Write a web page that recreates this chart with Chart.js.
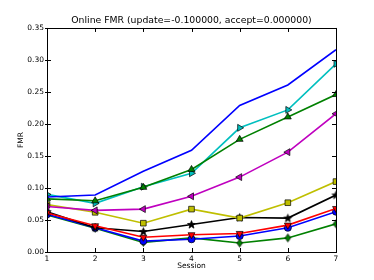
<!DOCTYPE html>
<html>
<head>
<meta charset="utf-8">
<script src="https://cdn.jsdelivr.net/npm/chart.js@4.4.1/dist/chart.umd.min.js"></script>
<style>
    html, body { margin: 0; padding: 0; background: #fff; }
    #wrap { width: 374px; height: 280px; }
</style>
</head>
<body>
<div id="wrap"><canvas id="fmr-chart"></canvas></div>
<script>
// Dados do gráfico
const sessoes = ['1', '2', '3', '4', '5', '6', '7'];
const yTicks = [0, 0.05, 0.10, 0.15, 0.20, 0.25, 0.30, 0.35];

const azulLinha = [0.086, 0.089, 0.126, 0.159, 0.229, 0.261, 0.316];
const verdeTriangulo = [0.083, 0.080, 0.101, 0.129, 0.176, 0.211, 0.246];
const vermelhoTriangulo = [0.061, 0.041, 0.023, 0.027, 0.029, 0.042, 0.068];
const cianoTriangulo = [0.090, 0.076, 0.102, 0.123, 0.194, 0.222, 0.294];
const magentaTriangulo = [0.071, 0.065, 0.067, 0.087, 0.117, 0.156, 0.216];
const amareloQuadrado = [0.074, 0.062, 0.045, 0.067, 0.053, 0.077, 0.110];
const pretoEstrela = [0.063, 0.038, 0.032, 0.043, 0.054, 0.053, 0.089];
const azulCirculo = [0.059, 0.038, 0.017, 0.020, 0.025, 0.038, 0.063];
const verdeDiamante = [0.058, 0.037, 0.015, 0.022, 0.014, 0.022, 0.044];

const FONTE = "'DejaVu Sans', sans-serif";
Chart.defaults.color = '#000';
Chart.defaults.font.family = FONTE;

// Marcadores desenhados à mão (estrela e diamante)
function criarMarcador(tipo, cor) {
    const c = document.createElement('canvas');
    c.width = 11;
    c.height = 11;
    const g = c.getContext('2d');
    g.fillStyle = cor;
    g.strokeStyle = '#000';
    g.lineWidth = 0.7;
    g.beginPath();
    if (tipo === 'estrela') {
        for (let i = 0; i < 10; i++) {
            const r = i % 2 === 0 ? 4.2 : 1.8;
            const a = -Math.PI / 2 + i * Math.PI / 5;
            g.lineTo(5.5 + r * Math.cos(a), 5.8 + r * Math.sin(a));
        }
    } else {
        g.moveTo(5.5, 1.5);
        g.lineTo(8.3, 5.5);
        g.lineTo(5.5, 9.5);
        g.lineTo(2.7, 5.5);
    }
    g.closePath();
    g.fill();
    g.stroke();
    return c;
}

function serie(dados, cor, estilo, rotacao, raio) {
    return {
        data: dados,
        borderColor: cor,
        backgroundColor: cor,
        borderWidth: 1.6,
        pointStyle: estilo,
        pointRotation: rotacao || 0,
        pointRadius: estilo === false ? 0 : (raio || 3.6),
        pointBackgroundColor: cor,
        pointBorderColor: '#000',
        pointBorderWidth: 0.7,
        tension: 0,
        clip: 0
    };
}

// Moldura e ticks internos (estilo matplotlib)
const molduraPlugin = {
    id: 'moldura',
    afterDraw(chart) {
        const { ctx, chartArea: a, scales } = chart;
        const t = 4;
        ctx.save();
        ctx.strokeStyle = '#000';
        ctx.lineWidth = 1;
        ctx.beginPath();
        sessoes.forEach((s, i) => {
            const x = Math.round(scales.x.getPixelForValue(i)) + 0.5;
            ctx.moveTo(x, a.bottom); ctx.lineTo(x, a.bottom - t);
            ctx.moveTo(x, a.top); ctx.lineTo(x, a.top + t);
        });
        yTicks.forEach(v => {
            const y = Math.round(scales.y.getPixelForValue(v)) + 0.5;
            ctx.moveTo(a.left - 2, y); ctx.lineTo(a.left + t, y);
            ctx.moveTo(a.right, y); ctx.lineTo(a.right - t, y);
        });
        ctx.stroke();
        ctx.strokeRect(Math.round(a.left) + 0.5, Math.round(a.top) + 0.5,
            Math.round(a.right - a.left), Math.round(a.bottom - a.top));
        ctx.restore();
    }
};

new Chart(document.getElementById('fmr-chart'), {
    type: 'line',
    data: {
        labels: sessoes,
        datasets: [
            serie(azulLinha, '#0000FF', false),
            serie(verdeTriangulo, '#008000', 'triangle', 0, 4),
            serie(vermelhoTriangulo, '#FF0000', 'triangle', 180, 4),
            serie(cianoTriangulo, '#00BFBF', 'triangle', 90, 4),
            serie(magentaTriangulo, '#BF00BF', 'triangle', 270, 4),
            serie(amareloQuadrado, '#BFBF00', 'rect', 0, 4),
            serie(pretoEstrela, '#000000', criarMarcador('estrela', '#000')),
            serie(azulCirculo, '#0000FF', 'circle', 0, 3.6),
            serie(verdeDiamante, '#008000', criarMarcador('diamante', '#008000'))
        ]
    },
    options: {
        responsive: true,
        maintainAspectRatio: false,
        animation: false,
        layout: { padding: { top: 0, right: 0, bottom: 0, left: 9 } },
        scales: {
            x: {
                offset: false,
                grid: { display: false, drawTicks: false },
                border: { display: false },
                ticks: { padding: 3, font: { size: 7.5 }, maxRotation: 0 },
                title: { display: true, text: 'Session', font: { size: 7.5 }, padding: { top: 0, bottom: 9 } },
                afterFit: s => { s.height = 28; }
            },
            y: {
                min: 0,
                max: 0.35,
                grid: { display: false, drawTicks: false },
                border: { display: false },
                ticks: { padding: 3, font: { size: 7.5 }, callback: v => v.toFixed(2) },
                afterBuildTicks: s => { s.ticks = yTicks.map(v => ({ value: v })); },
                title: { display: true, text: 'FMR', font: { size: 7.5 }, padding: { top: 7.5, bottom: 0 } },
                afterFit: s => { s.width = 38; }
            },
            // eixo vazio à direita só para reservar a margem
            margemDireita: {
                type: 'linear',
                position: 'right',
                min: 0,
                max: 1,
                grid: { display: false, drawTicks: false },
                border: { display: false },
                ticks: { display: false },
                afterFit: s => { s.width = 38; }
            }
        },
        plugins: {
            legend: { display: false },
            tooltip: { enabled: false },
            title: {
                display: true,
                text: 'Online FMR (update=-0.100000, accept=0.000000)',
                font: { size: 9.3, weight: 'normal' },
                padding: { top: 15, bottom: 1.8 }
            }
        }
    },
    plugins: [molduraPlugin]
});
</script>
</body>
</html>
